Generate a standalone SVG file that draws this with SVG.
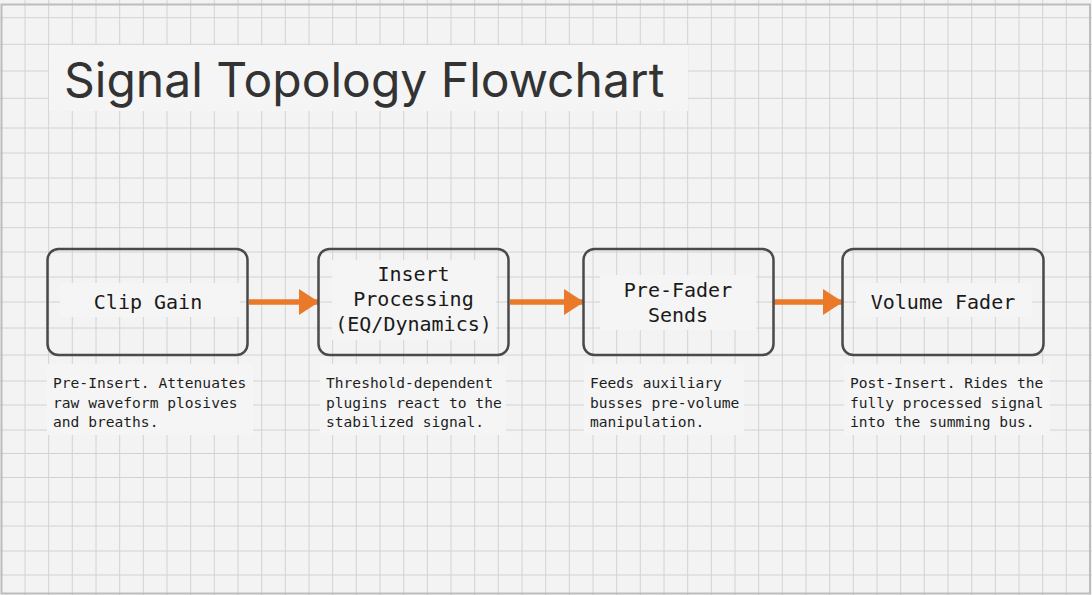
<svg xmlns="http://www.w3.org/2000/svg" width="1092" height="595" viewBox="0 0 1092 595">
  <defs>
    <style>
      .bg { fill: #f3f3f3; }
      .grid { stroke: #d2d2d2; stroke-width: 1; fill: none; }
      .panel { fill: #f5f5f5; }
      .node { fill: none; stroke: #4a4a4a; stroke-width: 2.5; }
      .label { font-family: "DejaVu Sans Mono", "Liberation Mono", monospace; font-size: 20px; fill: #1a1a1a; text-anchor: middle; }
      .desc { font-family: "DejaVu Sans Mono", "Liberation Mono", monospace; font-size: 14.6px; fill: #1e1e1e; }
      .title { font-family: Inter, "Noto Sans", sans-serif; font-size: 48px; fill: #333; }
      .conn { stroke: #ea7a2a; stroke-width: 5.5; fill: none; }
    </style>
    <marker id="arrow" viewBox="0 0 20 26" refX="19" refY="13" markerWidth="20" markerHeight="26" markerUnits="userSpaceOnUse" orient="auto">
      <path d="M0,0 L20,13 L0,26 Z" fill="#ea7a2a"/>
    </marker>
  </defs>

  <rect class="bg" x="0" y="0" width="1092" height="595"/>

  <g id="grid">
    <path class="grid" d="M25,0V595 M48.7,0V595 M72.3,0V595 M96,0V595 M119.7,0V595 M143.3,0V595 M167,0V595 M190.7,0V595 M214.3,0V595 M238,0V595 M261.7,0V595 M285.3,0V595 M309,0V595 M332.7,0V595 M356.3,0V595 M380,0V595 M403.7,0V595 M427.3,0V595 M451,0V595 M474.7,0V595 M498.3,0V595 M522,0V595 M545.7,0V595 M569.3,0V595 M593,0V595 M616.7,0V595 M640.3,0V595 M664,0V595 M687.7,0V595 M711.3,0V595 M735,0V595 M758.7,0V595 M782.3,0V595 M806,0V595 M829.7,0V595 M853.3,0V595 M877,0V595 M900.7,0V595 M924.3,0V595 M948,0V595 M971.7,0V595 M995.3,0V595 M1019,0V595 M1042.7,0V595 M1066.3,0V595"/>
    <path class="grid" d="M0,17.7H1092 M0,44.3H1092 M0,71H1092 M0,98.3H1092 M0,128H1092 M0,153H1092 M0,178H1092 M0,202.7H1092 M0,227.7H1092 M0,252H1092 M0,277H1092 M0,302H1092 M0,328H1092 M0,355H1092 M0,381H1092 M0,405H1092 M0,430H1092 M0,453.5H1092 M0,477.5H1092 M0,502H1092 M0,526H1092 M0,551H1092 M0,575H1092"/>
  </g>
  <rect x="1.5" y="4.5" width="1088.5" height="589" fill="none" stroke="#bdbdbd" stroke-width="2"/>

  <g id="title">
    <rect class="panel" x="49" y="45" width="639" height="66"/>
    <text class="title" x="64" y="97">Signal Topology Flowchart</text>
  </g>

  <g id="connectors">
    <line class="conn" x1="249" y1="302" x2="318" y2="302" marker-end="url(#arrow)"/>
    <line class="conn" x1="510" y1="302" x2="583" y2="302" marker-end="url(#arrow)"/>
    <line class="conn" x1="774" y1="302" x2="842" y2="302" marker-end="url(#arrow)"/>
  </g>

  <g id="node-clip-gain">
    <rect class="panel" x="60" y="283" width="180" height="34"/>
    <rect class="node" x="47.5" y="249" width="200" height="106" rx="11"/>
    <text class="label" x="148" y="309">Clip Gain</text>
    <rect class="panel" x="47" y="364" width="206" height="71"/>
    <text class="desc" x="53" y="388">Pre-Insert. Attenuates</text>
    <text class="desc" x="53" y="407.5">raw waveform plosives</text>
    <text class="desc" x="53" y="427">and breaths.</text>
  </g>

  <g id="node-insert-processing">
    <rect class="panel" x="332" y="260" width="164" height="80"/>
    <rect class="node" x="318.5" y="249" width="190" height="106" rx="11"/>
    <text class="label" x="413.5" y="281">Insert</text>
    <text class="label" x="413.5" y="306">Processing</text>
    <text class="label" x="413.5" y="331">(EQ/Dynamics)</text>
    <rect class="panel" x="320" y="364" width="186" height="71"/>
    <text class="desc" x="326" y="388">Threshold-dependent</text>
    <text class="desc" x="326" y="407.5">plugins react to the</text>
    <text class="desc" x="326" y="427">stabilized signal.</text>
  </g>

  <g id="node-pre-fader-sends">
    <rect class="panel" x="600" y="275" width="156" height="55"/>
    <rect class="node" x="583.5" y="249" width="190" height="106" rx="11"/>
    <text class="label" x="678" y="297">Pre-Fader</text>
    <text class="label" x="678" y="322">Sends</text>
    <rect class="panel" x="584" y="364" width="160" height="71"/>
    <text class="desc" x="590" y="388">Feeds auxiliary</text>
    <text class="desc" x="590" y="407.5">busses pre-volume</text>
    <text class="desc" x="590" y="427">manipulation.</text>
  </g>

  <g id="node-volume-fader">
    <rect class="panel" x="856" y="283" width="176" height="34"/>
    <rect class="node" x="842.5" y="249" width="201" height="106" rx="11"/>
    <text class="label" x="943" y="309">Volume Fader</text>
    <rect class="panel" x="844" y="364" width="206" height="71"/>
    <text class="desc" x="850" y="388">Post-Insert. Rides the</text>
    <text class="desc" x="850" y="407.5">fully processed signal</text>
    <text class="desc" x="850" y="427">into the summing bus.</text>
  </g>
</svg>
